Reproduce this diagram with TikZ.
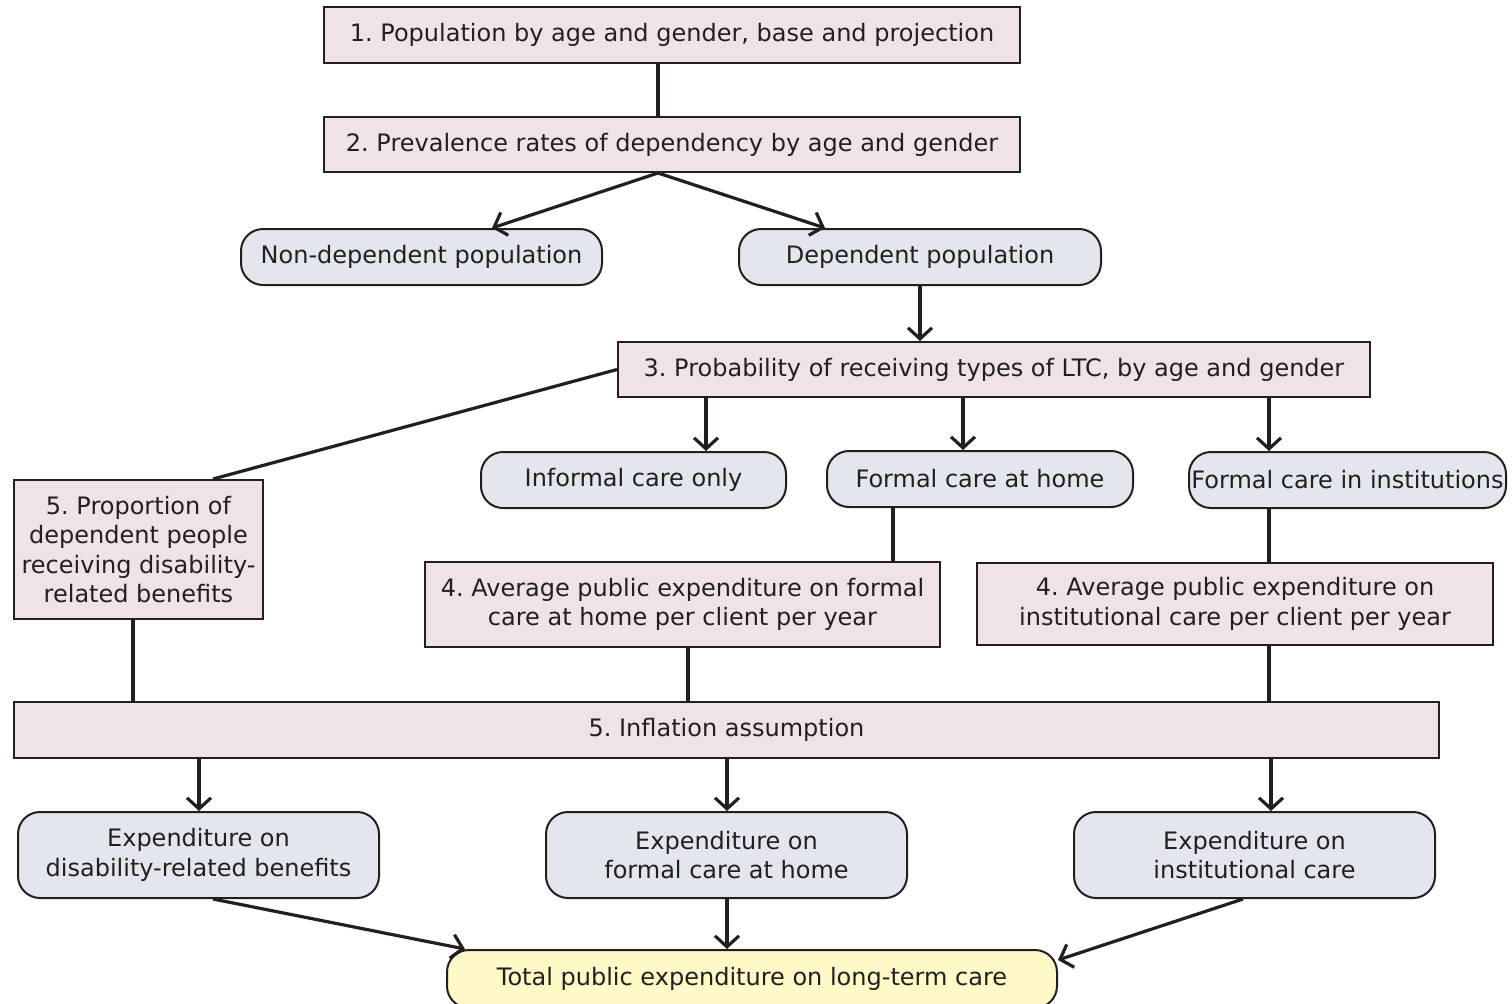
\documentclass[tikz,border=0pt]{standalone}
\usepackage{fontspec}
\setmainfont{DejaVu Sans}
\usetikzlibrary{arrows.meta}
\frenchspacing
\definecolor{inkdark}{HTML}{231F20}
\definecolor{boxpink}{HTML}{EFE3E7}
\definecolor{boxgray}{HTML}{E3E6EC}
\definecolor{boxyellow}{HTML}{FFFAC8}
\tikzset{wh/.style 2 args = {minimum width=#1*0.5pt, minimum height=#2*0.5pt},
         sqbox/.style = {draw=inkdark, text=inkdark, line width=1pt, fill=boxpink, align=center,
                         inner sep=0pt, font=\fontsize{12}{14.8}\selectfont},
         rndbox/.style = {sqbox, fill=boxgray, rounded corners=11pt},
         totbox/.style = {rndbox, fill=boxyellow},
         link/.style = {draw=inkdark, line width=1.6pt},
         arr/.style = {link, -{Straight Barb[length=5.5pt,width=12pt,line width=1.6pt]}}}

\begin{document}
\begin{tikzpicture}[x=0.5pt, y=-0.5pt]
    \useasboundingbox (0,0) rectangle (1512,1003);
    \node[sqbox, wh={696}{56}] (pop) at (672,35) {1. Population by age and gender, base and projection};
    \node[sqbox, wh={696}{55}] (prev) at (672,144.5) {2. Prevalence rates of dependency by age and gender};
    \node[rndbox, wh={361}{56}] (nondep) at (421.5,257) {Non-dependent population};
    \node[rndbox, wh={362}{56}] (dep) at (920,257) {Dependent population};
    \node[sqbox, wh={752}{55}] (prob) at (994,369.5) {3. Probability of receiving types of LTC, by age and gender};
    \node[rndbox, wh={305}{56}] (informal) at (633.5,480) {Informal care only};
    \node[rndbox, wh={306}{56}] (fhome) at (980,479) {Formal care at home};
    \node[rndbox, wh={317}{56}] (finst) at (1347.5,480) {Formal care in institutions};
    \node[sqbox, wh={249}{139}] (propben) at (138.5,549.5) {5. Proportion of\\dependent people\\receiving disability-\\related benefits};
    \node[sqbox, wh={515}{85}] (avghome) at (682.5,604.5) {4. Average public expenditure on formal\\care at home per client per year};
    \node[sqbox, wh={516}{82}] (avginst) at (1235,604) {4. Average public expenditure on\\institutional care per client per year};
    \node[sqbox, wh={1425}{56}] (infl) at (726.5,730) {5. Inflation assumption};
    \node[rndbox, wh={361}{86}] (expben) at (198.5,855) {Expenditure on\\disability-related benefits};
    \node[rndbox, wh={361}{86}] (exphome) at (726.5,855) {Expenditure on\\formal care at home};
    \node[rndbox, wh={361}{86}] (expinst) at (1254.5,855) {Expenditure on\\institutional care};
    \node[totbox, wh={610}{58}] (total) at (752,979) {Total public expenditure on long-term care};
    % connectors
    \draw[link] (pop.south -| 658,0) -- (prev.north -| 658,0);
    \draw[arr] (prev.south -| 658,0) -- (nondep.north -| 492,0);
    \draw[arr] (prev.south -| 658,0) -- (dep.north -| 825,0);
    \draw[arr] (dep.south) -- (prob.north -| dep.south);
    \draw[link] (prob.west) -- (propben.north -| 213,0);
    \foreach \x/\n in {706/informal, 963/fhome, 1269/finst}
        \draw[arr] (prob.south -| \x,0) -- (\n.north -| \x,0);
    \draw[link] (fhome.south -| 893,0) -- (avghome.north -| 893,0);
    \draw[link] (finst.south -| 1269,0) -- (avginst.north -| 1269,0);
    \foreach \x/\n in {133/propben, 688/avghome, 1269/avginst}
        \draw[link] (\n.south -| \x,0) -- (infl.north -| \x,0);
    \foreach \x/\n in {199/expben, 727/exphome, 1271/expinst}
        \draw[arr] (infl.south -| \x,0) -- (\n.north -| \x,0);
    \draw[arr] (expben.south -| 213,0) -- (total.north -| 465,0);
    \draw[arr] (exphome.south -| 727,0) -- (total.north -| 727,0);
    \draw[arr] (expinst.south -| 1243,0) -- (total.east |- 0,960);
\end{tikzpicture}
\end{document}
